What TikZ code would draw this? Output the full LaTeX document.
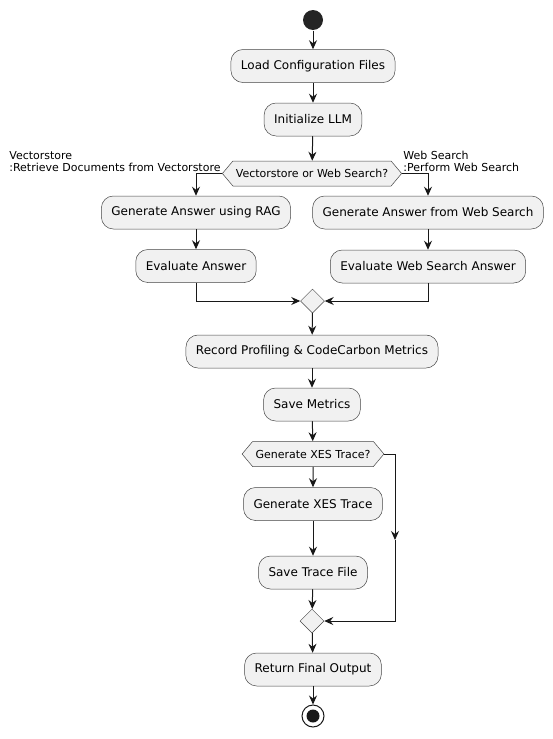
\documentclass[tikz,border=0pt]{standalone}
\usepackage{fontspec}
\setmainfont{DejaVu Sans}
\usetikzlibrary{positioning, calc, arrows.meta, shapes.geometric, shapes.symbols}
\definecolor{actfill}{HTML}{F1F1F1}
\definecolor{umlline}{HTML}{181818}
\tikzstyle{act}=[shape=rectangle,
                 rounded corners=12pt,
                 draw=umlline!80,
                 fill=actfill,
                 line width=0.5pt,
                 minimum height=33pt,
                 inner xsep=10pt,
                 font=\fontsize{12}{14}\selectfont]
\tikzstyle{dec}=[shape=signal,
                 signal to=east and west,
                 signal pointer angle=100,
                 draw=umlline!80,
                 fill=actfill,
                 line width=0.5pt,
                 minimum height=25pt,
                 inner xsep=3pt,
                 font=\fontsize{11}{13}\selectfont]
\tikzstyle{merge}=[shape=diamond,
                   draw=umlline!80,
                   fill=actfill,
                   line width=0.5pt,
                   minimum width=24pt,
                   minimum height=24pt,
                   inner sep=0pt]
\tikzstyle{lbl}=[align=left, inner sep=1pt, font=\fontsize{11}{12.5}\selectfont]

\begin{document}
\begin{tikzpicture}[x=1pt, y=-1pt, >={Stealth[length=9pt, width=8pt, inset=3pt]},
                    line width=1pt, draw=umlline]
\useasboundingbox (0,0) rectangle (553,739);

% start and main flow
\node[circle, fill=umlline!95, minimum size=20pt, inner sep=0pt] (start) at (313,20) {};
\node[act] (load) at (313,66) {Load Configuration Files};
\node[act] (llm) at (313,119.5) {Initialize LLM};
\node[dec] (src) at (312,173.5) {Vectorstore or Web Search?};

% branch labels
\node[lbl, anchor=south east] (lvec) at (src.west) {Vectorstore\\:Retrieve Documents from Vectorstore};
\node[lbl, anchor=south west] (lweb) at (src.east) {Web Search\\:Perform Web Search};

% left branch
\node[act] (rag) at (196,212.5) {Generate Answer using RAG};
\node[act] (evalrag) at (196,266) {Evaluate Answer};

% right branch
\node[act] (web) at (428,212.5) {Generate Answer from Web Search};
\node[act] (evalweb) at (428,266.5) {Evaluate Web Search Answer};

\node[merge] (m1) at (312.5,301) {};

\node[act] (rec) at (312,351.5) {Record Profiling \& CodeCarbon Metrics};
\node[act] (save) at (312,404.5) {Save Metrics};
\node[dec] (xesq) at (313,454) {Generate XES Trace?};
\node[act] (xes) at (313,504) {Generate XES Trace};
\node[act] (trace) at (313,572.5) {Save Trace File};
\node[merge] (m2) at (312,621) {};
\coordinate (skip) at (395,540);

\node[act] (ret) at (313,669.5) {Return Final Output};
\node[circle, draw=umlline, line width=1pt, fill=white, minimum size=22pt, inner sep=0pt] (stop) at (313,716) {};
\node[circle, fill=umlline, minimum size=13pt, inner sep=0pt] (stopdot) at (stop) {};

% paths
\path[->] (start) edge (load);
\path[->] (load) edge (llm);
\path[->] (llm) edge (src);
\draw[->] (src.west) -| (rag.north);
\draw[->] (src.east) -| (web.north);
\path[->] (rag) edge (evalrag);
\path[->] (web) edge (evalweb);
\draw[->] (evalrag.south) |- (m1.west);
\draw[->] (evalweb.south) |- (m1.east);
\path[->] (m1) edge (rec);
\path[->] (rec) edge (save);
\path[->] (save) edge (xesq);
\path[->] (xesq) edge (xes);
\path[->] (xes) edge (trace);
\path[->] (trace) edge (m2);
\draw[->] (xesq.east) -| (skip);
\draw[->] (skip) |- (m2.east);
\path[->] (m2) edge (ret);
\path[->] (ret) edge (stop);

\end{tikzpicture}
\end{document}
